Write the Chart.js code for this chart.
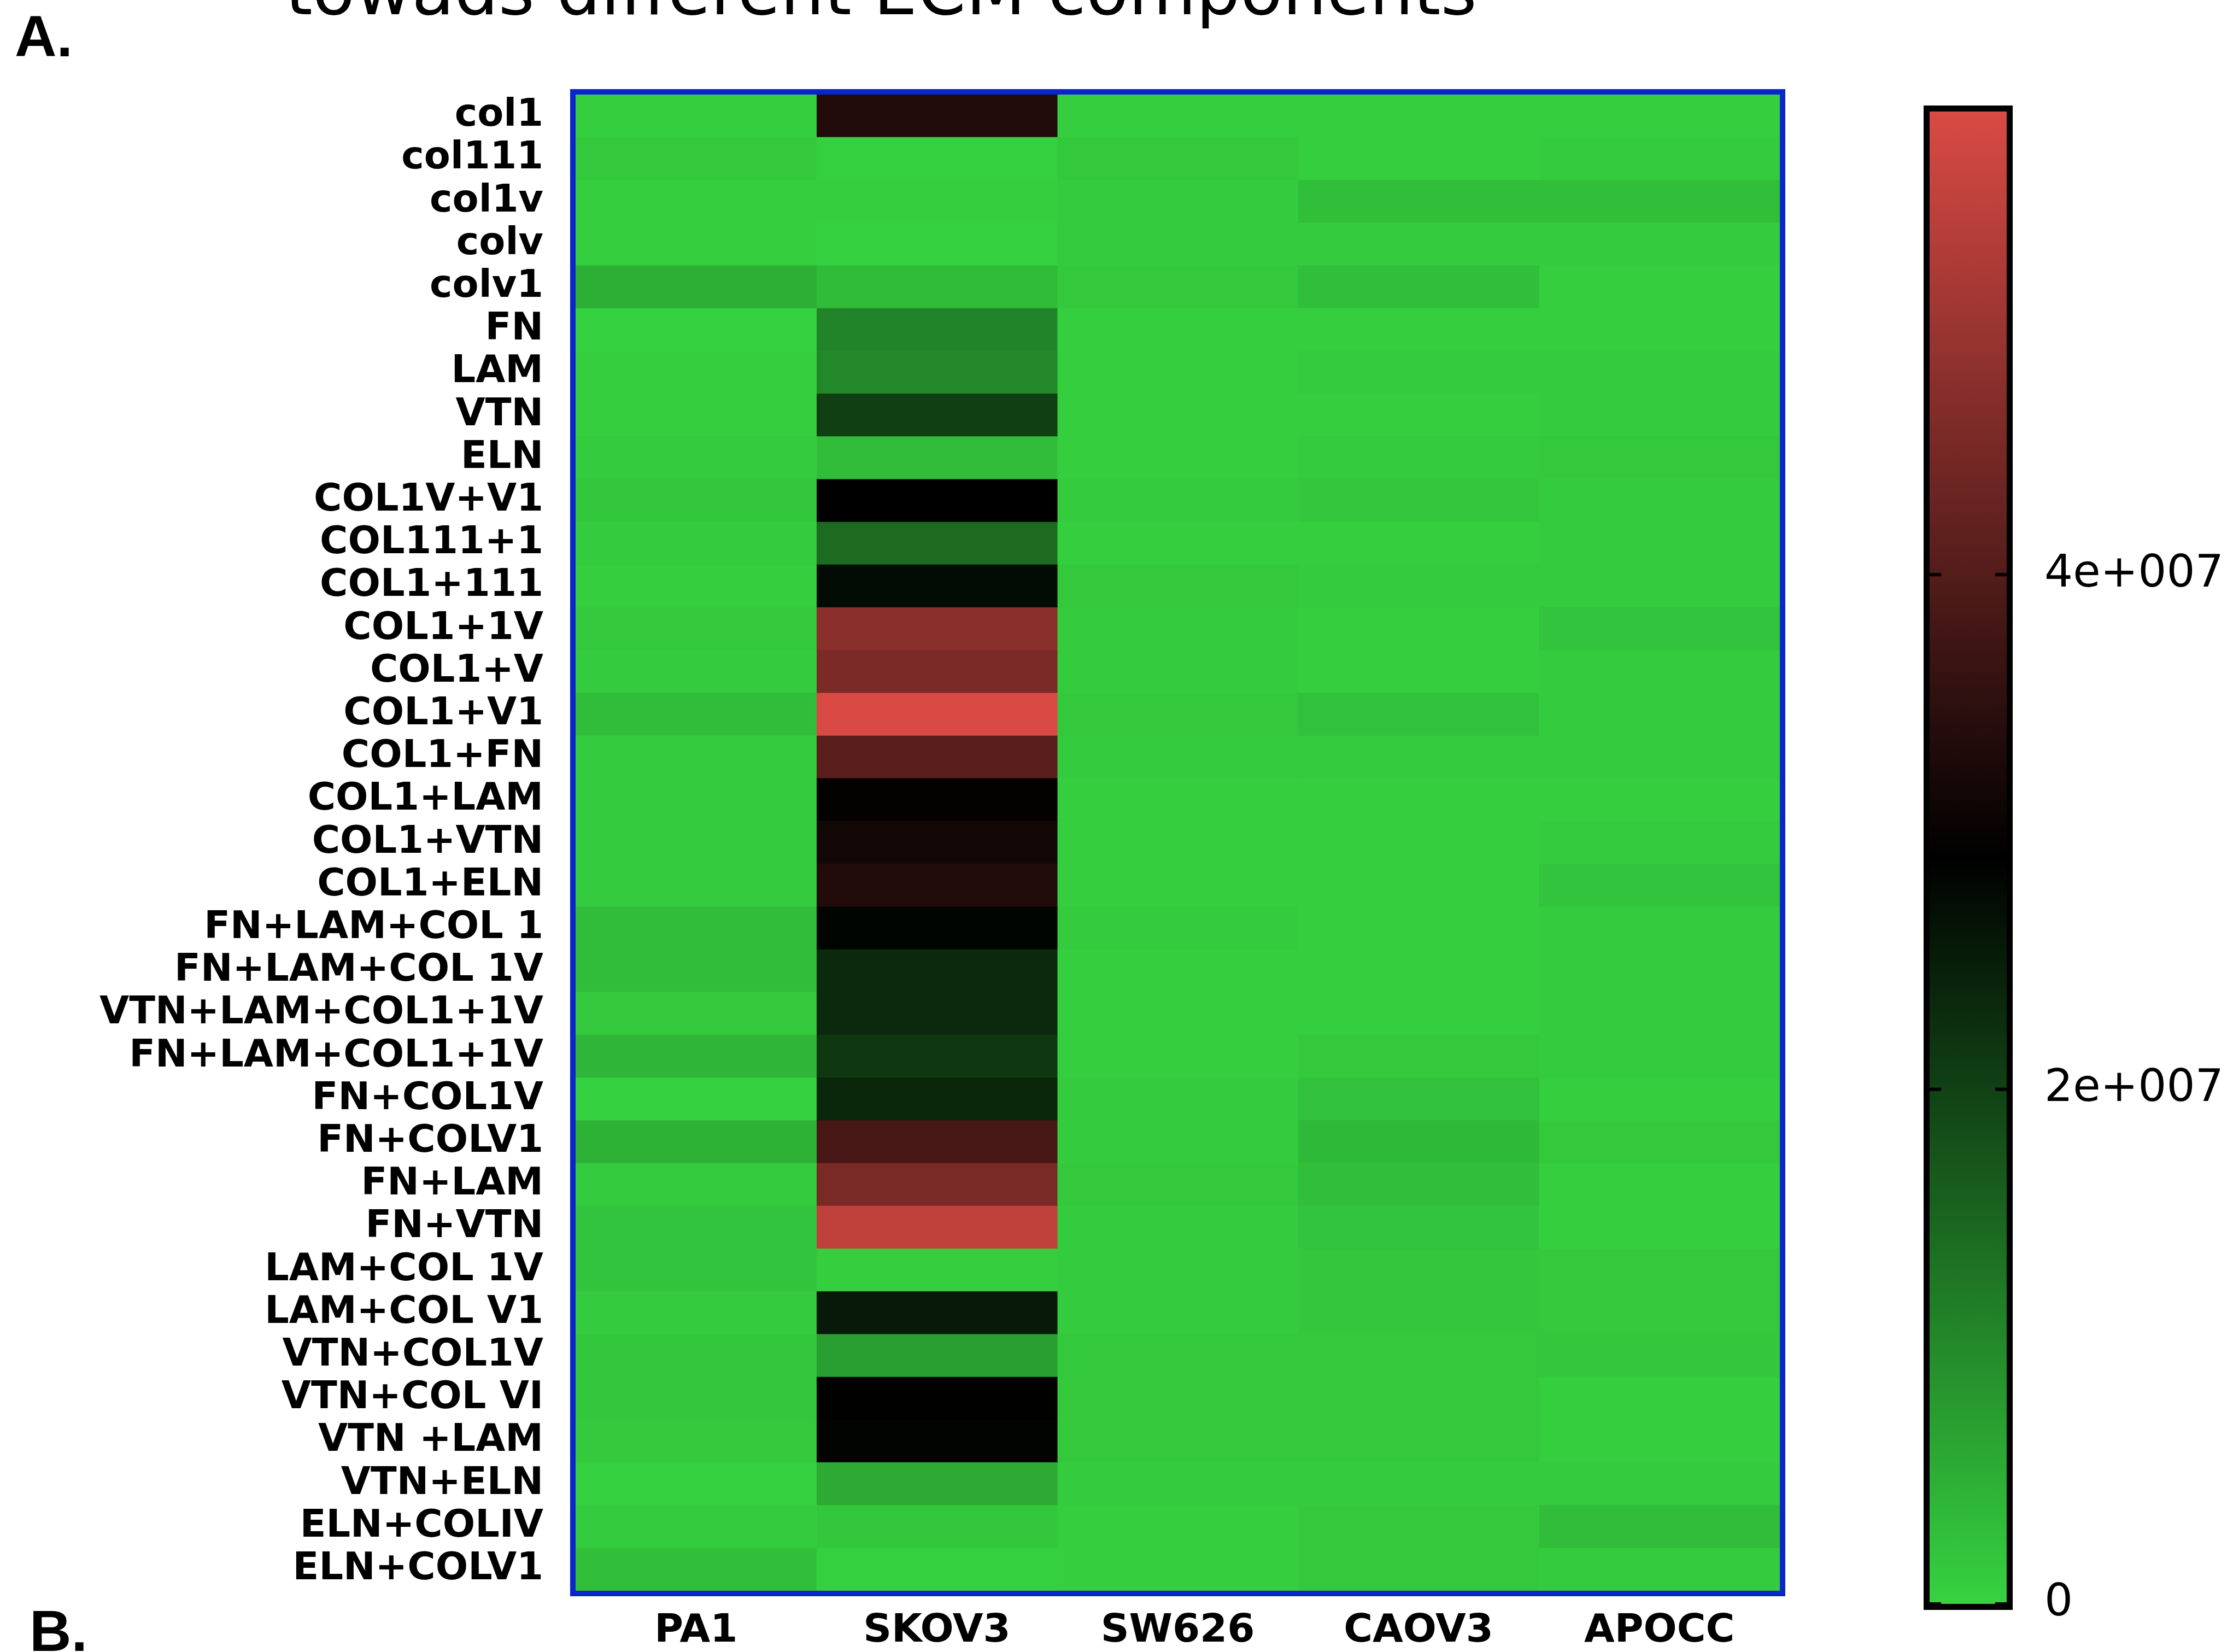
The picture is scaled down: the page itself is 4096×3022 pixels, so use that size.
<!DOCTYPE html>
<html>
<head>
<meta charset="utf-8">
<script src="https://cdn.jsdelivr.net/npm/chart.js@4.4.1/dist/chart.umd.min.js"></script>
<style>
  html, body { margin: 0; padding: 0; background: #fff; }
  #wrap { position: relative; width: 4096px; height: 3022px; overflow: hidden; }
  canvas { position: absolute; left: 0; top: 0; }
</style>
</head>
<body>
<div id="wrap">
  <canvas id="heat" width="4096" height="3022"></canvas>
  <canvas id="bar" width="4096" height="3022"></canvas>
</div>
<script>
// === Data ===
const rowLabels = [
  "col1", "col111", "col1v", "colv", "colv1", "FN", "LAM", "VTN", "ELN",
  "COL1V+V1", "COL111+1", "COL1+111", "COL1+1V", "COL1+V", "COL1+V1",
  "COL1+FN", "COL1+LAM", "COL1+VTN", "COL1+ELN", "FN+LAM+COL 1",
  "FN+LAM+COL 1V", "VTN+LAM+COL1+1V", "FN+LAM+COL1+1V", "FN+COL1V",
  "FN+COLV1", "FN+LAM", "FN+VTN", "LAM+COL 1V", "LAM+COL V1", "VTN+COL1V",
  "VTN+COL VI", "VTN +LAM", "VTN+ELN", "ELN+COLIV", "ELN+COLV1"
];
const cellLines = ["PA1", "SKOV3", "SW626", "CAOV3", "APOCC"];

// signal per cell, in millions
const pa1   = [0.6, 1.2, 0.6, 0.6, 4.9, 0.3, 0.6, 0.6, 0.9, 1.5, 0.9, 0.6, 1.2, 0.9, 2.9, 0.9, 0.9, 0.9,
               0.9, 2.9, 2.9, 1.2, 3.8, 0.3, 4.4, 0.9, 2.0, 2.0, 0.9, 1.5, 1.5, 1.2, 0.3, 0.9, 2.6];
const skov3 = [33.6, 0.3, 0.6, 0.3, 3.2, 10.8, 10.2, 20.3, 2.9, 29.0, 14.2, 27.3, 47.5, 45.5, 58.0, 41.0, 29.5, 31.6,
               33.6, 28.3, 23.2, 23.2, 21.2, 23.8, 38.6, 45.3, 54.6, 0.6, 25.5, 7.0, 29.2, 28.5, 5.5, 1.5, 0.3];
const sw626 = [0.6, 1.2, 0.9, 0.9, 1.2, 0.6, 0.6, 0.6, 0.6, 0.9, 0.6, 1.2, 0.9, 0.9, 1.2, 0.9, 0.6, 0.6,
               0.6, 0.9, 0.6, 0.6, 0.6, 0.9, 0.9, 1.2, 0.9, 0.9, 0.9, 1.2, 1.2, 1.2, 0.9, 0.6, 0.6];
const caov3 = [0.6, 0.6, 2.6, 0.9, 2.6, 0.6, 0.9, 0.6, 0.9, 1.5, 0.6, 0.9, 0.6, 0.6, 2.3, 0.9, 0.6, 0.6,
               0.6, 0.6, 0.6, 0.6, 1.2, 2.3, 3.5, 2.6, 2.0, 1.5, 1.5, 1.2, 1.2, 1.2, 0.9, 1.2, 1.2];
const apocc = [0.6, 0.9, 2.6, 0.9, 0.6, 0.6, 0.9, 0.9, 1.2, 0.9, 0.9, 0.9, 2.0, 0.9, 0.9, 0.9, 0.6, 0.9,
               2.0, 0.9, 0.9, 0.9, 0.9, 0.6, 1.2, 0.6, 0.6, 1.2, 1.2, 1.5, 0.6, 0.6, 0.9, 2.9, 0.9];

const colorTicks = [0, 2e7, 4e7];
const SCALE_MAX = 5.8e7;

// === Colour scale: green -> black -> red ===
const GREEN = [54, 210, 64];
const RED = [217, 74, 68];
function heatColor(v) {
  const mid = SCALE_MAX / 2;
  let c;
  if (v <= mid) {
    const t = 1 - v / mid;
    c = GREEN.map(x => x * t);
  } else {
    const t = Math.min(1, (v - mid) / mid);
    c = RED.map(x => x * t);
  }
  return `rgb(${c.map(Math.round).join(",")})`;
}

const columns = [pa1, skov3, sw626, caov3, apocc];
const datasets = columns.map((vals, i) => ({
  label: cellLines[i],
  data: rowLabels.map(() => 1),
  backgroundColor: vals.map(v => heatColor(v * 1e6)),
  borderWidth: 0,
  barPercentage: 1,
  categoryPercentage: 1
}));

// === Frame + panel text ===
const heatFrame = {
  id: "heatFrame",
  afterDatasetsDraw(chart) {
    const { ctx, chartArea: a } = chart;
    ctx.save();
    ctx.strokeStyle = "#0a26c8";
    ctx.lineWidth = 10;
    ctx.strokeRect(a.left - 5, a.top - 5, a.right - a.left + 10, a.bottom - a.top + 10);
    ctx.restore();
  },
  afterDraw(chart) {
    const ctx = chart.ctx;
    ctx.save();
    ctx.fillStyle = "#000";
    ctx.textBaseline = "alphabetic";
    ctx.font = '127px "DejaVu Sans"';
    ctx.fillText("towads different ECM components", 522, 26);
    ctx.font = 'bold 106px "Liberation Sans"';
    ctx.fillText("A.", 27, 103);
    ctx.fillText("B.", 54, 3020);
    ctx.restore();
  }
};

new Chart(document.getElementById("heat"), {
  type: "bar",
  data: { labels: rowLabels, datasets },
  options: {
    indexAxis: "y",
    responsive: false,
    animation: false,
    layout: { padding: { top: 173, right: 840, bottom: 0, left: 0 } },
    plugins: { legend: { display: false }, tooltip: { enabled: false } },
    scales: {
      x: {
        type: "linear",
        stacked: true,
        min: 0,
        max: cellLines.length,
        grid: { display: false },
        border: { display: false },
        afterBuildTicks: scale => { scale.ticks = cellLines.map((_, i) => ({ value: i + 0.5 })); },
        afterFit: scale => { scale.height = 112; },
        ticks: {
          autoSkip: false,
          maxRotation: 0,
          padding: 23,
          color: "#000",
          font: { family: "DejaVu Sans", weight: "bold", size: 72 },
          callback: (v, i) => cellLines[i]
        }
      },
      y: {
        stacked: true,
        grid: { display: false },
        border: { display: false },
        afterFit: scale => { scale.width = 1053; },
        ticks: {
          autoSkip: false,
          padding: 51,
          color: "#000",
          font: { family: "DejaVu Sans", weight: "bold", size: 70 }
        }
      }
    }
  },
  plugins: [heatFrame]
});

// === Colour bar ===
const barFrame = {
  id: "barFrame",
  afterDatasetsDraw(chart) {
    const { ctx, chartArea: a } = chart;
    const y = chart.scales.y;
    ctx.save();
    ctx.strokeStyle = "#000";
    ctx.lineWidth = 11;
    ctx.strokeRect(a.left - 5.5, a.top - 5.5, a.right - a.left + 11, a.bottom - a.top + 11);
    ctx.fillStyle = "#000";
    colorTicks.forEach(v => {
      const py = y.getPixelForValue(v);
      ctx.fillRect(a.left, py - 3, 21, 6);
      ctx.fillRect(a.right - 21, py - 3, 21, 6);
    });
    ctx.restore();
  }
};

new Chart(document.getElementById("bar"), {
  type: "bar",
  data: {
    labels: [""],
    datasets: [{
      data: [SCALE_MAX],
      borderWidth: 0,
      barPercentage: 1,
      categoryPercentage: 1,
      backgroundColor: ctx => {
        const chart = ctx.chart;
        if (!chart.chartArea) return null;
        const y = chart.scales.y;
        const g = chart.ctx.createLinearGradient(0, y.getPixelForValue(0), 0, y.getPixelForValue(SCALE_MAX));
        for (let k = 0; k <= 20; k++) g.addColorStop(k / 20, heatColor(SCALE_MAX * k / 20));
        return g;
      }
    }]
  },
  options: {
    responsive: false,
    animation: false,
    layout: { padding: { top: 204, right: 0, bottom: 88, left: 3530 } },
    plugins: { legend: { display: false }, tooltip: { enabled: false } },
    scales: {
      x: { display: false },
      y: {
        position: "right",
        min: 0,
        max: SCALE_MAX,
        grid: { display: false },
        border: { display: false },
        afterBuildTicks: scale => { scale.ticks = colorTicks.map(v => ({ value: v })); },
        afterFit: scale => {
          scale.width = 4096 - 3671;
          // keep the end labels from pushing the bar inwards
          scale.paddingTop = 0;
          scale.paddingBottom = 0;
        },
        ticks: {
          padding: 61,
          color: "#000",
          font: { family: "DejaVu Sans", size: 82 },
          callback: v => (v === 0 ? "0" : (v / 1e7) + "e+007")
        }
      }
    }
  },
  plugins: [barFrame]
});
</script>
</body>
</html>
